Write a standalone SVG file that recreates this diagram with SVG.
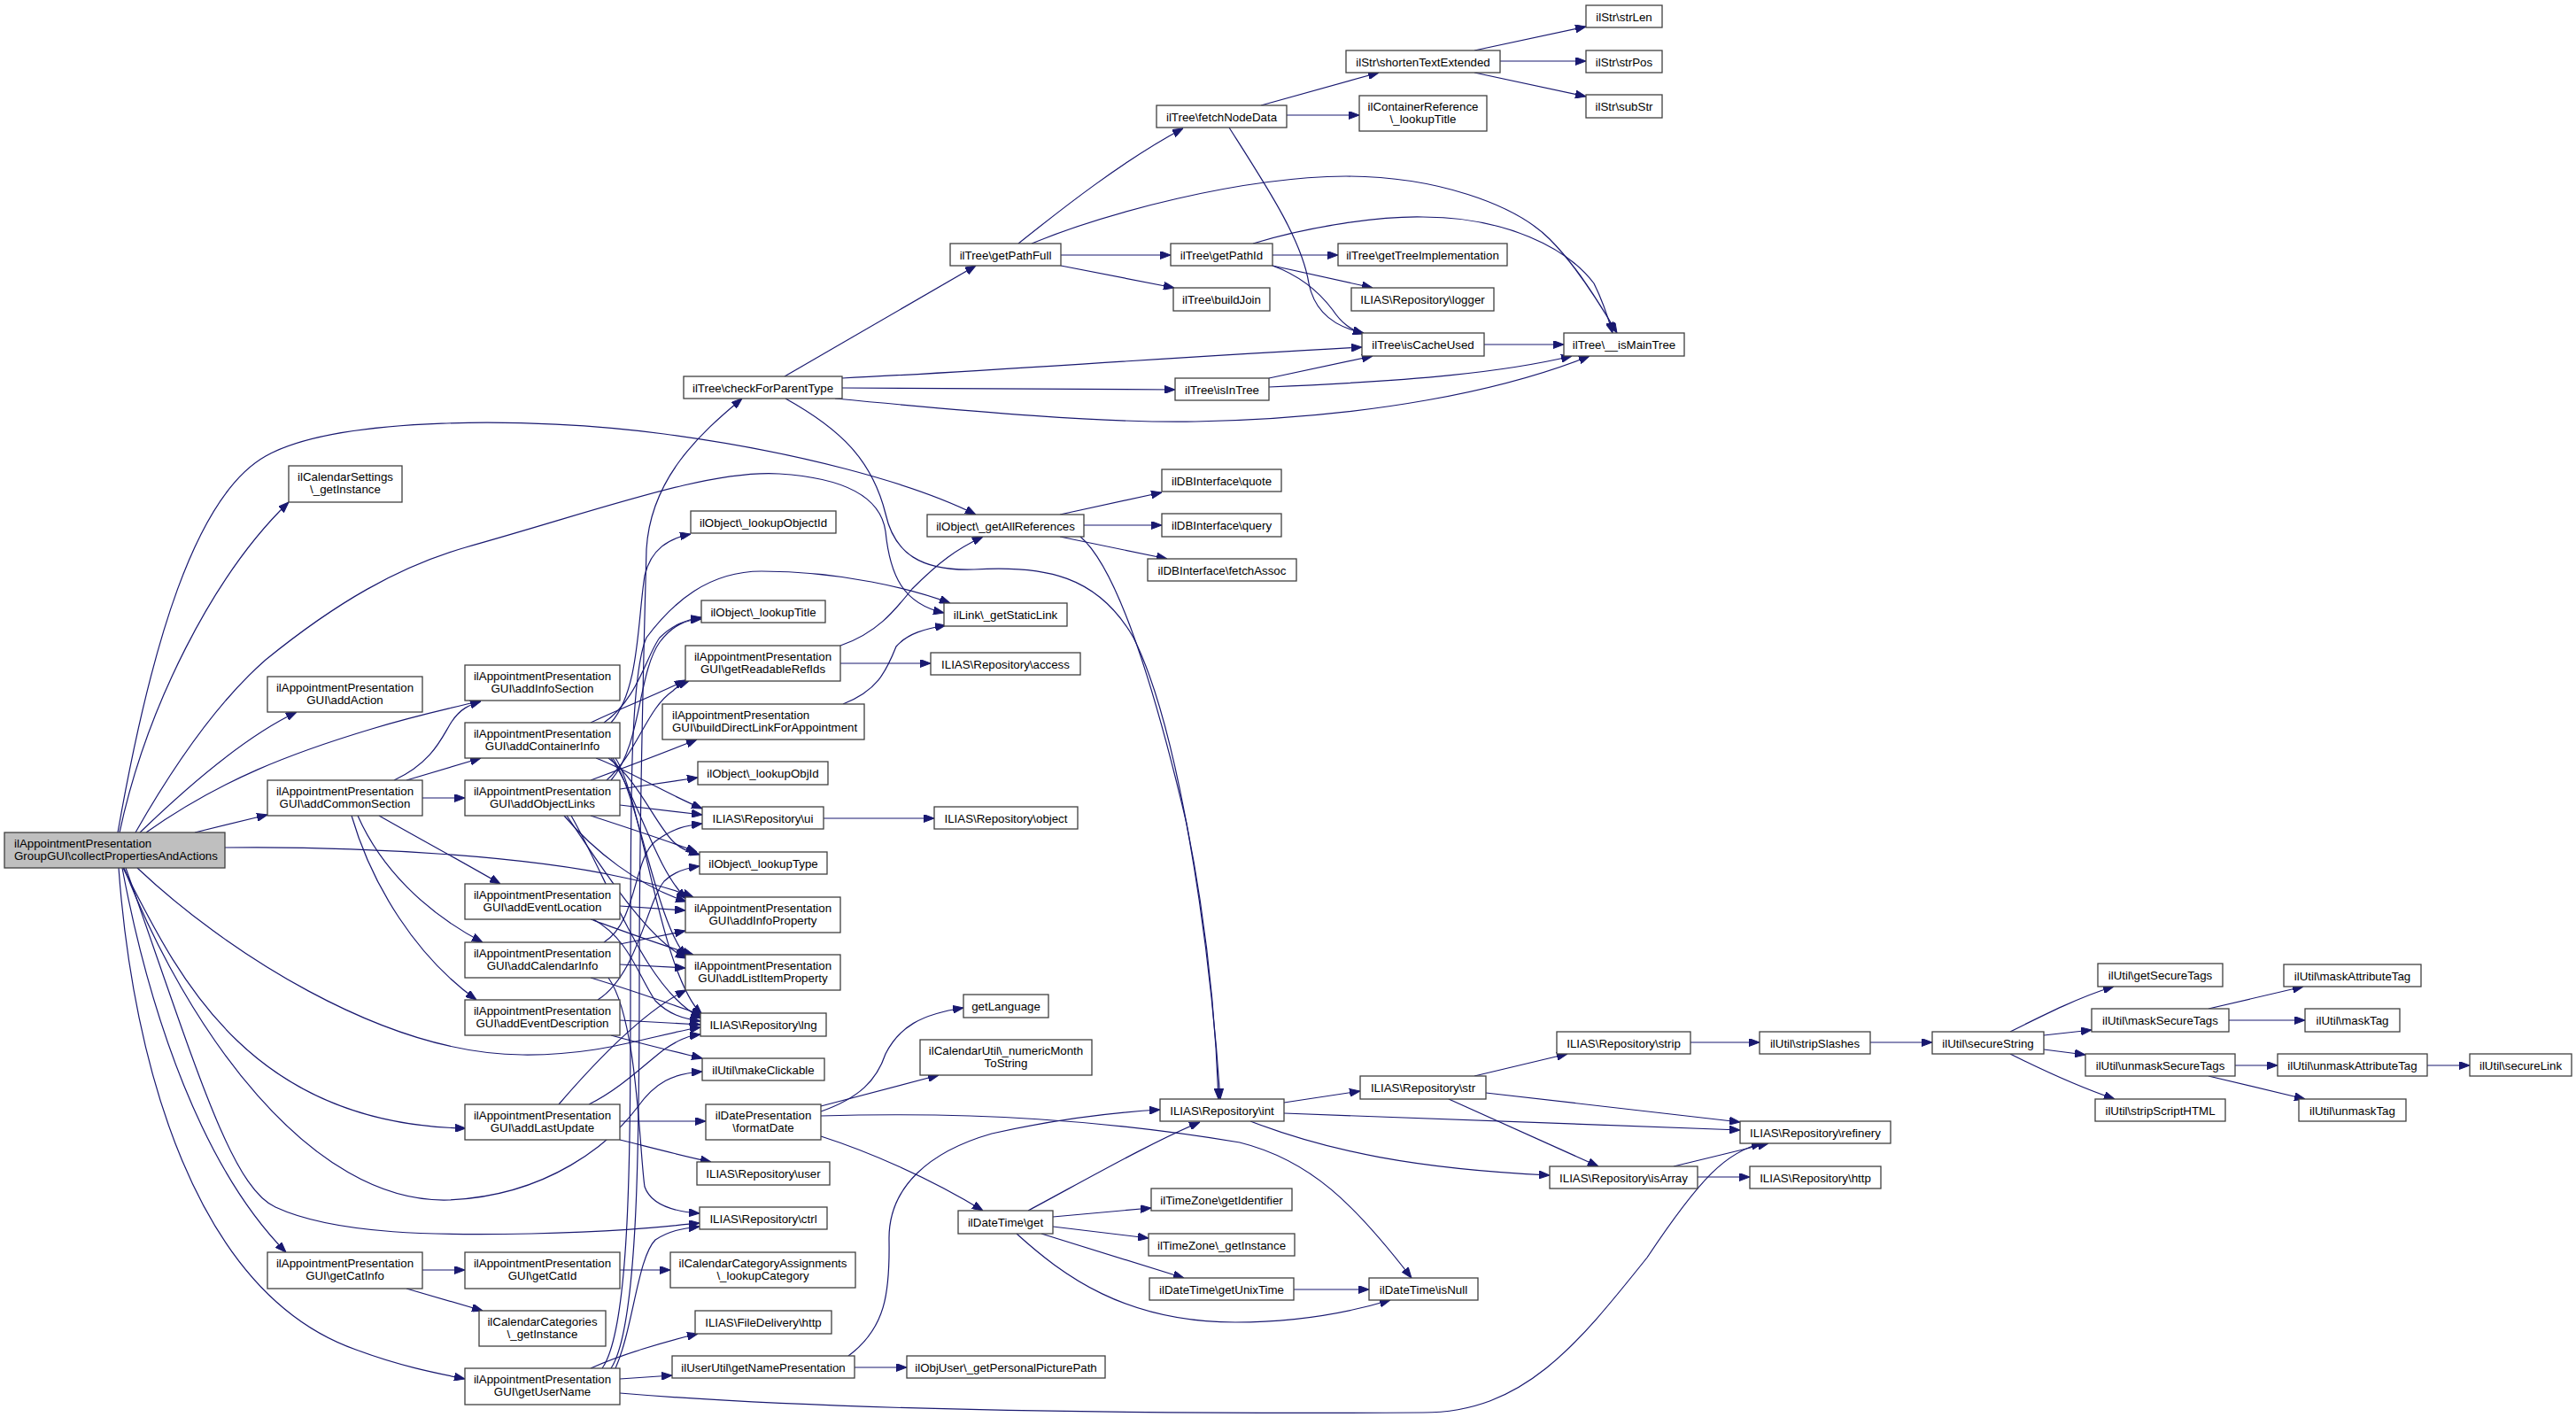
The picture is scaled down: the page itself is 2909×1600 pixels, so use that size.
<svg xmlns="http://www.w3.org/2000/svg" width="2909" height="1600" viewBox="0 0 2909 1600">
<defs>
<style>
.n rect{fill:#fff;stroke:#404040;stroke-width:1.3}
.n.root rect{fill:#bfbfbf}
.n text{font-family:"Liberation Sans",Arial,Helvetica,sans-serif;font-size:13.3px;fill:#000;text-anchor:middle}
.n text.l{text-anchor:start}
.e path{fill:none;stroke:#191970;stroke-width:1.2;marker-end:url(#ah)}
</style>
<marker id="ah" viewBox="0 0 12 9" refX="12" refY="4.5" markerWidth="12" markerHeight="9" markerUnits="userSpaceOnUse" orient="auto"><path d="M0,0L12,4.5L0,9z" fill="#191970" stroke="#191970" stroke-width="1"/></marker>
</defs>
<rect width="2909" height="1600" fill="#fff"/>
<g id="connectors" class="e">
<path d="M135,940 C165,800 240,650 326,567"/>
<path d="M133,940 C170,730 220,560 300,515 C380,470 600,470 750,490 C900,510 1030,545 1102,581"/>
<path d="M153,940 C210,840 260,780 300,745 C380,680 450,640 526,618 C680,575 800,530 880,535 C960,540 995,565 1000,600 C1005,650 1020,682 1066,692"/>
<path d="M158,940 C220,880 280,830 335,804"/>
<path d="M165,940 C250,880 330,850 420,823 C480,805 510,800 543,791"/>
<path d="M220,940 L302,920"/>
<path d="M254,957 C420,955 600,968 700,990 C740,998 760,1004 783,1013"/>
<path d="M155,980 C250,1070 430,1190 590,1191 C680,1192 730,1170 791,1160"/>
<path d="M139,980 C200,1100 280,1270 526,1274"/>
<path d="M140,980 C210,1160 350,1360 507,1355 C620,1350 690,1290 720,1250 C740,1222 760,1212 793,1210"/>
<path d="M142,980 C220,1200 260,1340 311,1363 C380,1395 500,1395 600,1393 C700,1391 750,1385 790,1381"/>
<path d="M138,980 C170,1150 230,1320 323,1414"/>
<path d="M134,980 C150,1200 220,1460 402,1524 C450,1542 490,1550 525,1557"/>
<path d="M445,881 C490,860 500,830 510,815 C520,800 530,796 543,792"/>
<path d="M459,881 L543,856"/>
<path d="M477,901 L525,901"/>
<path d="M428,921 C470,945 520,972 565,998"/>
<path d="M404,921 C430,980 480,1030 545,1064"/>
<path d="M397,921 C420,1000 470,1080 538,1129"/>
<path d="M667,816 C700,800 740,785 774,768"/>
<path d="M682,816 C720,790 730,740 745,720 C760,705 775,700 792,697"/>
<path d="M690,816 C722,780 720,700 728,650 C735,620 755,608 780,603"/>
<path d="M673,856 C710,870 750,895 793,913"/>
<path d="M687,856 C720,880 740,930 760,950 C770,960 780,962 790,965"/>
<path d="M690,856 C720,900 740,980 775,1015"/>
<path d="M692,856 C722,900 740,1040 775,1080"/>
<path d="M695,856 C725,900 745,1100 793,1146"/>
<path d="M685,881 C720,850 730,800 760,780 C765,775 770,772 778,769"/>
<path d="M690,881 C725,840 720,760 745,725 C760,705 775,700 792,699"/>
<path d="M667,881 C710,865 750,850 787,835"/>
<path d="M700,891 L788,878"/>
<path d="M700,909 L793,920"/>
<path d="M667,921 C710,935 750,948 787,962"/>
<path d="M637,921 C670,960 720,1000 775,1018"/>
<path d="M640,921 C680,980 730,1060 775,1082"/>
<path d="M645,921 C690,1000 730,1120 793,1150"/>
<path d="M700,1023 L774,1028"/>
<path d="M670,1038 C710,1060 720,1100 740,1130 C755,1145 770,1150 791,1153"/>
<path d="M667,1038 C700,1050 740,1065 783,1078"/>
<path d="M700,1066 L774,1051"/>
<path d="M700,1089 L774,1093"/>
<path d="M667,1104 C720,1120 760,1135 793,1146"/>
<path d="M682,1064 C720,1040 715,970 740,950 C760,935 775,932 793,930"/>
<path d="M687,1104 C720,1150 722,1300 728,1340 C735,1360 760,1368 790,1370"/>
<path d="M700,1152 L791,1157"/>
<path d="M675,1129 C720,1100 730,1020 750,995 C760,985 775,980 790,978"/>
<path d="M690,1169 C730,1180 760,1187 793,1195"/>
<path d="M700,1266 L797,1266"/>
<path d="M700,1287 C740,1297 770,1305 803,1312"/>
<path d="M665,1247 C700,1230 730,1200 750,1185 C765,1175 775,1170 791,1168"/>
<path d="M631,1247 C680,1190 730,1140 775,1118"/>
<path d="M477,1434 L525,1434"/>
<path d="M459,1455 L545,1480"/>
<path d="M700,1434 L757,1434"/>
<path d="M690,1545 C720,1500 722,1300 722,1100 C722,900 728,700 730,620 C735,540 790,490 838,450"/>
<path d="M680,1545 C712,1500 712,1300 712,1100 C712,900 712,760 730,720 C760,680 800,645 860,645 C950,645 1030,665 1073,681"/>
<path d="M695,1545 C715,1500 720,1420 740,1400 C755,1390 770,1387 790,1385"/>
<path d="M667,1545 C700,1530 750,1515 788,1506"/>
<path d="M700,1557 L759,1553"/>
<path d="M700,1573 C900,1590 1200,1597 1607,1595 C1720,1595 1780,1520 1860,1420 C1920,1330 1950,1300 1990,1291"/>
<path d="M949,729 C990,715 1010,690 1030,665 C1060,635 1080,620 1110,606"/>
<path d="M949,749 L1051,749"/>
<path d="M952,795 C990,780 1000,760 1012,730 C1025,715 1045,710 1068,706"/>
<path d="M930,924 L1055,924"/>
<path d="M886,425 L1102,300"/>
<path d="M951,427 C1100,420 1300,405 1538,392"/>
<path d="M951,438 L1327,440"/>
<path d="M943,450 C1100,465 1250,478 1350,476 C1550,472 1700,440 1795,402"/>
<path d="M887,450 C950,485 985,520 1000,580 C1010,625 1040,645 1100,643 C1180,638 1240,650 1280,720 C1330,820 1365,1050 1378,1241"/>
<path d="M1197,581 L1312,556"/>
<path d="M1224,593 L1312,593"/>
<path d="M1197,606 L1318,631"/>
<path d="M1220,606 C1260,640 1300,760 1340,930 C1360,1030 1372,1130 1376,1241"/>
<path d="M1150,275 C1200,235 1270,180 1336,145"/>
<path d="M1165,275 C1250,240 1400,200 1520,199 C1620,199 1710,230 1750,270 C1780,300 1805,340 1826,376"/>
<path d="M1198,288 L1322,288"/>
<path d="M1198,300 L1326,325"/>
<path d="M1424,119 L1557,82"/>
<path d="M1453,130 L1535,130"/>
<path d="M1388,144 C1430,210 1470,270 1478,320 C1485,355 1510,370 1540,376"/>
<path d="M1665,57 L1791,30"/>
<path d="M1694,69 L1791,69"/>
<path d="M1665,82 L1791,109"/>
<path d="M1437,288 L1511,288"/>
<path d="M1437,300 L1550,325"/>
<path d="M1437,300 C1470,312 1490,330 1505,350 C1515,365 1525,372 1540,377"/>
<path d="M1415,275 C1480,255 1560,244 1607,245 C1700,245 1770,280 1800,320 C1810,340 1815,355 1821,376"/>
<path d="M1676,389 L1766,389"/>
<path d="M1433,427 L1550,402"/>
<path d="M1433,437 C1600,430 1700,420 1775,402"/>
<path d="M1450,1245 L1536,1232"/>
<path d="M1450,1257 L1965,1276"/>
<path d="M1412,1266 C1500,1300 1600,1320 1750,1327"/>
<path d="M1665,1215 L1770,1190"/>
<path d="M1678,1234 L1965,1267"/>
<path d="M1636,1241 L1805,1317"/>
<path d="M1909,1177 L1987,1177"/>
<path d="M2112,1177 L2182,1177"/>
<path d="M1890,1317 L1997,1291"/>
<path d="M1917,1329 L1976,1329"/>
<path d="M2270,1165 C2310,1145 2350,1125 2387,1114"/>
<path d="M2308,1169 L2362,1163"/>
<path d="M2308,1185 L2355,1191"/>
<path d="M2270,1190 C2310,1210 2350,1228 2388,1241"/>
<path d="M2494,1139 L2601,1114"/>
<path d="M2517,1152 L2603,1152"/>
<path d="M2524,1203 L2572,1203"/>
<path d="M2494,1215 L2603,1241"/>
<path d="M2741,1203 L2789,1203"/>
<path d="M927,1255 C970,1240 990,1220 1000,1190 C1015,1160 1040,1145 1088,1138"/>
<path d="M927,1249 L1060,1214"/>
<path d="M927,1283 C980,1300 1050,1330 1110,1367"/>
<path d="M927,1260 C1100,1255 1250,1265 1400,1290 C1480,1310 1530,1360 1594,1443"/>
<path d="M1161,1367 C1230,1330 1300,1290 1355,1267"/>
<path d="M1189,1374 L1300,1364"/>
<path d="M1189,1385 L1297,1398"/>
<path d="M1176,1393 L1337,1443"/>
<path d="M1148,1393 C1200,1440 1270,1493 1395,1493 C1470,1493 1530,1480 1570,1468"/>
<path d="M1461,1456 L1546,1456"/>
<path d="M965,1544 L1024,1544"/>
<path d="M958,1531 C1000,1500 1005,1460 1004,1400 C1003,1340 1050,1300 1120,1280 C1200,1262 1260,1256 1310,1253"/>
</g>
<g id="root" class="n root"><rect x="5" y="940" width="249" height="40"/><text class="l"><tspan x="16" y="957">ilAppointmentPresentation</tspan><tspan x="16" y="971">GroupGUI\collectPropertiesAndActions</tspan></text></g>
<g id="calSettings" class="n"><rect x="326" y="526" width="128" height="41"/><text><tspan x="390" y="543">ilCalendarSettings</tspan><tspan x="390" y="557">\_getInstance</tspan></text></g>
<g id="addAction" class="n"><rect x="302" y="764" width="175" height="40"/><text><tspan x="389.5" y="781">ilAppointmentPresentation</tspan><tspan x="389.5" y="795">GUI\addAction</tspan></text></g>
<g id="addCommonSection" class="n"><rect x="302" y="881" width="175" height="40"/><text><tspan x="389.5" y="898">ilAppointmentPresentation</tspan><tspan x="389.5" y="912">GUI\addCommonSection</tspan></text></g>
<g id="getCatInfo" class="n"><rect x="302" y="1414" width="175" height="41"/><text><tspan x="389.5" y="1431">ilAppointmentPresentation</tspan><tspan x="389.5" y="1445">GUI\getCatInfo</tspan></text></g>
<g id="addInfoSection" class="n"><rect x="525" y="751" width="175" height="40"/><text><tspan x="612.5" y="768">ilAppointmentPresentation</tspan><tspan x="612.5" y="782">GUI\addInfoSection</tspan></text></g>
<g id="addContainerInfo" class="n"><rect x="525" y="816" width="175" height="40"/><text><tspan x="612.5" y="833">ilAppointmentPresentation</tspan><tspan x="612.5" y="847">GUI\addContainerInfo</tspan></text></g>
<g id="addObjectLinks" class="n"><rect x="525" y="881" width="175" height="40"/><text><tspan x="612.5" y="898">ilAppointmentPresentation</tspan><tspan x="612.5" y="912">GUI\addObjectLinks</tspan></text></g>
<g id="addEventLocation" class="n"><rect x="525" y="998" width="175" height="40"/><text><tspan x="612.5" y="1015">ilAppointmentPresentation</tspan><tspan x="612.5" y="1029">GUI\addEventLocation</tspan></text></g>
<g id="addCalendarInfo" class="n"><rect x="525" y="1064" width="175" height="40"/><text><tspan x="612.5" y="1081">ilAppointmentPresentation</tspan><tspan x="612.5" y="1095">GUI\addCalendarInfo</tspan></text></g>
<g id="addEventDescription" class="n"><rect x="525" y="1129" width="175" height="40"/><text><tspan x="612.5" y="1146">ilAppointmentPresentation</tspan><tspan x="612.5" y="1160">GUI\addEventDescription</tspan></text></g>
<g id="addLastUpdate" class="n"><rect x="525" y="1247" width="175" height="40"/><text><tspan x="612.5" y="1264">ilAppointmentPresentation</tspan><tspan x="612.5" y="1278">GUI\addLastUpdate</tspan></text></g>
<g id="getCatId" class="n"><rect x="525" y="1414" width="175" height="41"/><text><tspan x="612.5" y="1431">ilAppointmentPresentation</tspan><tspan x="612.5" y="1445">GUI\getCatId</tspan></text></g>
<g id="calCategories" class="n"><rect x="541" y="1480" width="143" height="40"/><text><tspan x="612.5" y="1497">ilCalendarCategories</tspan><tspan x="612.5" y="1511">\_getInstance</tspan></text></g>
<g id="getUserName" class="n"><rect x="525" y="1545" width="175" height="41"/><text><tspan x="612.5" y="1562">ilAppointmentPresentation</tspan><tspan x="612.5" y="1576">GUI\getUserName</tspan></text></g>
<g id="checkForParentType" class="n"><rect x="772" y="425" width="179" height="25"/><text x="861.5" y="442.5">ilTree\checkForParentType</text></g>
<g id="lookupObjectId" class="n"><rect x="780" y="577" width="164" height="25"/><text x="862" y="594.5">ilObject\_lookupObjectId</text></g>
<g id="lookupTitle" class="n"><rect x="792" y="678" width="140" height="25"/><text x="862" y="695.5">ilObject\_lookupTitle</text></g>
<g id="getReadableRefIds" class="n"><rect x="774" y="729" width="175" height="40"/><text><tspan x="861.5" y="746">ilAppointmentPresentation</tspan><tspan x="861.5" y="760">GUI\getReadableRefIds</tspan></text></g>
<g id="buildDirectLink" class="n"><rect x="748" y="795" width="228" height="40"/><text class="l"><tspan x="759" y="812">ilAppointmentPresentation</tspan><tspan x="759" y="826">GUI\buildDirectLinkForAppointment</tspan></text></g>
<g id="lookupObjId" class="n"><rect x="788" y="860" width="147" height="26"/><text x="861.5" y="878">ilObject\_lookupObjId</text></g>
<g id="repoUi" class="n"><rect x="793" y="911" width="137" height="25"/><text x="861.5" y="928.5">ILIAS\Repository\ui</text></g>
<g id="lookupType" class="n"><rect x="790" y="962" width="144" height="25"/><text x="862" y="979.5">ilObject\_lookupType</text></g>
<g id="addInfoProperty" class="n"><rect x="774" y="1013" width="175" height="40"/><text><tspan x="861.5" y="1030">ilAppointmentPresentation</tspan><tspan x="861.5" y="1044">GUI\addInfoProperty</tspan></text></g>
<g id="addListItemProperty" class="n"><rect x="774" y="1078" width="175" height="40"/><text><tspan x="861.5" y="1095">ilAppointmentPresentation</tspan><tspan x="861.5" y="1109">GUI\addListItemProperty</tspan></text></g>
<g id="repoLng" class="n"><rect x="791" y="1144" width="142" height="26"/><text x="862" y="1162">ILIAS\Repository\lng</text></g>
<g id="makeClickable" class="n"><rect x="793" y="1195" width="138" height="25"/><text x="862" y="1212.5">ilUtil\makeClickable</text></g>
<g id="formatDate" class="n"><rect x="797" y="1247" width="130" height="40"/><text><tspan x="862" y="1264">ilDatePresentation</tspan><tspan x="862" y="1278">\formatDate</tspan></text></g>
<g id="repoUser" class="n"><rect x="787" y="1312" width="150" height="26"/><text x="862" y="1330">ILIAS\Repository\user</text></g>
<g id="repoCtrl" class="n"><rect x="790" y="1363" width="144" height="25"/><text x="862" y="1380.5">ILIAS\Repository\ctrl</text></g>
<g id="lookupCategory" class="n"><rect x="757" y="1414" width="209" height="40"/><text><tspan x="861.5" y="1431">ilCalendarCategoryAssignments</tspan><tspan x="861.5" y="1445">\_lookupCategory</tspan></text></g>
<g id="fileDeliveryHttp" class="n"><rect x="785" y="1480" width="154" height="26"/><text x="862" y="1498">ILIAS\FileDelivery\http</text></g>
<g id="getNamePresentation" class="n"><rect x="759" y="1531" width="206" height="25"/><text x="862" y="1548.5">ilUserUtil\getNamePresentation</text></g>
<g id="getPathFull" class="n"><rect x="1073" y="275" width="125" height="25"/><text x="1135.5" y="292.5">ilTree\getPathFull</text></g>
<g id="getAllReferences" class="n"><rect x="1047" y="581" width="177" height="25"/><text x="1135.5" y="598.5">ilObject\_getAllReferences</text></g>
<g id="getStaticLink" class="n"><rect x="1066" y="681" width="139" height="26"/><text x="1135.5" y="699">ilLink\_getStaticLink</text></g>
<g id="repoAccess" class="n"><rect x="1051" y="737" width="169" height="25"/><text x="1135.5" y="754.5">ILIAS\Repository\access</text></g>
<g id="repoObject" class="n"><rect x="1055" y="911" width="162" height="25"/><text x="1136" y="928.5">ILIAS\Repository\object</text></g>
<g id="getLanguage" class="n"><rect x="1088" y="1123" width="96" height="26"/><text x="1136" y="1141">getLanguage</text></g>
<g id="numericMonth" class="n"><rect x="1039" y="1174" width="194" height="40"/><text><tspan x="1136" y="1191">ilCalendarUtil\_numericMonth</tspan><tspan x="1136" y="1205">ToString</tspan></text></g>
<g id="dateTimeGet" class="n"><rect x="1082" y="1367" width="107" height="26"/><text x="1135.5" y="1385">ilDateTime\get</text></g>
<g id="personalPicture" class="n"><rect x="1024" y="1531" width="224" height="25"/><text x="1136" y="1548.5">ilObjUser\_getPersonalPicturePath</text></g>
<g id="fetchNodeData" class="n"><rect x="1306" y="119" width="147" height="25"/><text x="1379.5" y="136.5">ilTree\fetchNodeData</text></g>
<g id="getPathId" class="n"><rect x="1322" y="275" width="115" height="25"/><text x="1379.5" y="292.5">ilTree\getPathId</text></g>
<g id="buildJoin" class="n"><rect x="1325" y="325" width="109" height="26"/><text x="1379.5" y="343">ilTree\buildJoin</text></g>
<g id="isInTree" class="n"><rect x="1327" y="427" width="106" height="25"/><text x="1380" y="444.5">ilTree\isInTree</text></g>
<g id="dbQuote" class="n"><rect x="1312" y="530" width="135" height="25"/><text x="1379.5" y="547.5">ilDBInterface\quote</text></g>
<g id="dbQuery" class="n"><rect x="1312" y="580" width="135" height="26"/><text x="1379.5" y="598">ilDBInterface\query</text></g>
<g id="dbFetchAssoc" class="n"><rect x="1296" y="631" width="168" height="25"/><text x="1380" y="648.5">ilDBInterface\fetchAssoc</text></g>
<g id="repoInt" class="n"><rect x="1310" y="1241" width="140" height="25"/><text x="1380" y="1258.5">ILIAS\Repository\int</text></g>
<g id="tzGetIdentifier" class="n"><rect x="1300" y="1342" width="159" height="25"/><text x="1379.5" y="1359.5">ilTimeZone\getIdentifier</text></g>
<g id="tzGetInstance" class="n"><rect x="1297" y="1393" width="165" height="25"/><text x="1379.5" y="1410.5">ilTimeZone\_getInstance</text></g>
<g id="getUnixTime" class="n"><rect x="1298" y="1443" width="163" height="25"/><text x="1379.5" y="1460.5">ilDateTime\getUnixTime</text></g>
<g id="shortenTextExtended" class="n"><rect x="1520" y="57" width="174" height="25"/><text x="1607" y="74.5">ilStr\shortenTextExtended</text></g>
<g id="containerRefTitle" class="n"><rect x="1535" y="108" width="144" height="40"/><text><tspan x="1607" y="125">ilContainerReference</tspan><tspan x="1607" y="139">\_lookupTitle</tspan></text></g>
<g id="getTreeImplementation" class="n"><rect x="1511" y="275" width="191" height="25"/><text x="1606.5" y="292.5">ilTree\getTreeImplementation</text></g>
<g id="repoLogger" class="n"><rect x="1526" y="325" width="161" height="26"/><text x="1606.5" y="343">ILIAS\Repository\logger</text></g>
<g id="isCacheUsed" class="n"><rect x="1538" y="376" width="138" height="26"/><text x="1607" y="394">ilTree\isCacheUsed</text></g>
<g id="repoStr" class="n"><rect x="1536" y="1215" width="142" height="26"/><text x="1607" y="1233">ILIAS\Repository\str</text></g>
<g id="isNull" class="n"><rect x="1546" y="1443" width="123" height="25"/><text x="1607.5" y="1460.5">ilDateTime\isNull</text></g>
<g id="strLen" class="n"><rect x="1791" y="6" width="86" height="25"/><text x="1834" y="23.5">ilStr\strLen</text></g>
<g id="strPos" class="n"><rect x="1791" y="57" width="86" height="25"/><text x="1834" y="74.5">ilStr\strPos</text></g>
<g id="subStr" class="n"><rect x="1791" y="107" width="86" height="26"/><text x="1834" y="125">ilStr\subStr</text></g>
<g id="isMainTree" class="n"><rect x="1766" y="376" width="136" height="26"/><text x="1834" y="394">ilTree\__isMainTree</text></g>
<g id="repoStrip" class="n"><rect x="1758" y="1165" width="151" height="25"/><text x="1833.5" y="1182.5">ILIAS\Repository\strip</text></g>
<g id="repoIsArray" class="n"><rect x="1750" y="1317" width="167" height="25"/><text x="1833.5" y="1334.5">ILIAS\Repository\isArray</text></g>
<g id="stripSlashes" class="n"><rect x="1987" y="1165" width="125" height="25"/><text x="2049.5" y="1182.5">ilUtil\stripSlashes</text></g>
<g id="repoRefinery" class="n"><rect x="1965" y="1266" width="170" height="25"/><text x="2050" y="1283.5">ILIAS\Repository\refinery</text></g>
<g id="repoHttp" class="n"><rect x="1976" y="1317" width="148" height="25"/><text x="2050" y="1334.5">ILIAS\Repository\http</text></g>
<g id="secureString" class="n"><rect x="2182" y="1165" width="126" height="25"/><text x="2245" y="1182.5">ilUtil\secureString</text></g>
<g id="getSecureTags" class="n"><rect x="2369" y="1088" width="141" height="26"/><text x="2439.5" y="1106">ilUtil\getSecureTags</text></g>
<g id="maskSecureTags" class="n"><rect x="2362" y="1139" width="155" height="26"/><text x="2439.5" y="1157">ilUtil\maskSecureTags</text></g>
<g id="unmaskSecureTags" class="n"><rect x="2355" y="1190" width="169" height="25"/><text x="2439.5" y="1207.5">ilUtil\unmaskSecureTags</text></g>
<g id="stripScriptHTML" class="n"><rect x="2366" y="1241" width="147" height="25"/><text x="2439.5" y="1258.5">ilUtil\stripScriptHTML</text></g>
<g id="maskAttributeTag" class="n"><rect x="2579" y="1089" width="155" height="25"/><text x="2656.5" y="1106.5">ilUtil\maskAttributeTag</text></g>
<g id="maskTag" class="n"><rect x="2603" y="1139" width="107" height="26"/><text x="2656.5" y="1157">ilUtil\maskTag</text></g>
<g id="unmaskAttributeTag" class="n"><rect x="2572" y="1190" width="169" height="25"/><text x="2656.5" y="1207.5">ilUtil\unmaskAttributeTag</text></g>
<g id="unmaskTag" class="n"><rect x="2596" y="1241" width="121" height="25"/><text x="2656.5" y="1258.5">ilUtil\unmaskTag</text></g>
<g id="secureLink" class="n"><rect x="2789" y="1190" width="115" height="25"/><text x="2846.5" y="1207.5">ilUtil\secureLink</text></g>
</svg>
